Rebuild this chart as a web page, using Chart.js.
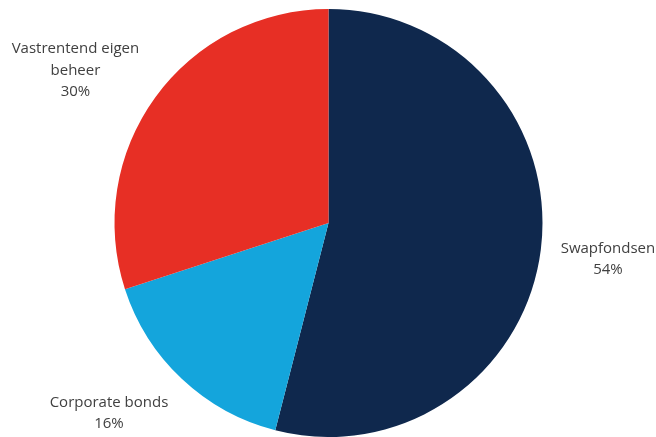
<!DOCTYPE html>
<html>
<head>
<meta charset="utf-8">
<script src="https://cdn.jsdelivr.net/npm/chart.js@4.4.0/dist/chart.umd.min.js"></script>
<style>
  html, body { margin: 0; padding: 0; background: #fff; }
  #wrap { width: 656px; height: 437px; position: relative; }
</style>
</head>
<body>
<div id="wrap"><canvas id="chart"></canvas></div>
<script>
const categories = ["Swapfondsen", "Corporate bonds", "Vastrentend eigen beheer"];
const labelLines = [["Swapfondsen"], ["Corporate bonds"], ["Vastrentend eigen", "beheer"]];
const shares = [54, 16, 30];
const sliceColors = ["#0f284d", "#14a5dc", "#e72f25"];

// outside-end labels placed from each arc's own geometry
const outsideLabels = {
  id: "outsideLabels",
  afterDatasetsDraw(chart) {
    const ctx = chart.ctx;
    const meta = chart.getDatasetMeta(0);
    const lineH = 21.5;
    ctx.save();
    ctx.font = "15px 'Open Sans'";
    ctx.fillStyle = "#404040";
    ctx.textBaseline = "middle";
    meta.data.forEach((arc, i) => {
      const mid = (arc.startAngle + arc.endAngle) / 2;
      const dx = Math.cos(mid);
      const dy = Math.sin(mid);
      const ax = arc.x + dx * (arc.outerRadius + 20);
      const ay = arc.y + dy * (arc.outerRadius + 20);
      const lines = labelLines[i].concat([shares[i] + "%"]);
      const widths = lines.map((l) => ctx.measureText(l).width);
      const w = Math.max(...widths);
      const h = lines.length * lineH;
      const cx = dx >= 0 ? ax + w / 2 : ax - w / 2;
      const top = ay - h / 2 + (h / 2) * dy + 4;
      ctx.textAlign = "center";
      lines.forEach((l, k) => ctx.fillText(l, cx, top + lineH * (k + 0.5)));
    });
    ctx.restore();
  },
};

new Chart(document.getElementById("chart"), {
  type: "pie",
  data: {
    labels: categories,
    datasets: [
      {
        data: shares,
        backgroundColor: sliceColors,
        borderWidth: 0,
      },
    ],
  },
  options: {
    responsive: true,
    maintainAspectRatio: false,
    animation: false,
    layout: { padding: { top: 9, bottom: 0, left: 1, right: 0 } },
    plugins: {
      legend: { display: false },
      tooltip: { enabled: false },
    },
  },
  plugins: [outsideLabels],
});
</script>
</body>
</html>
